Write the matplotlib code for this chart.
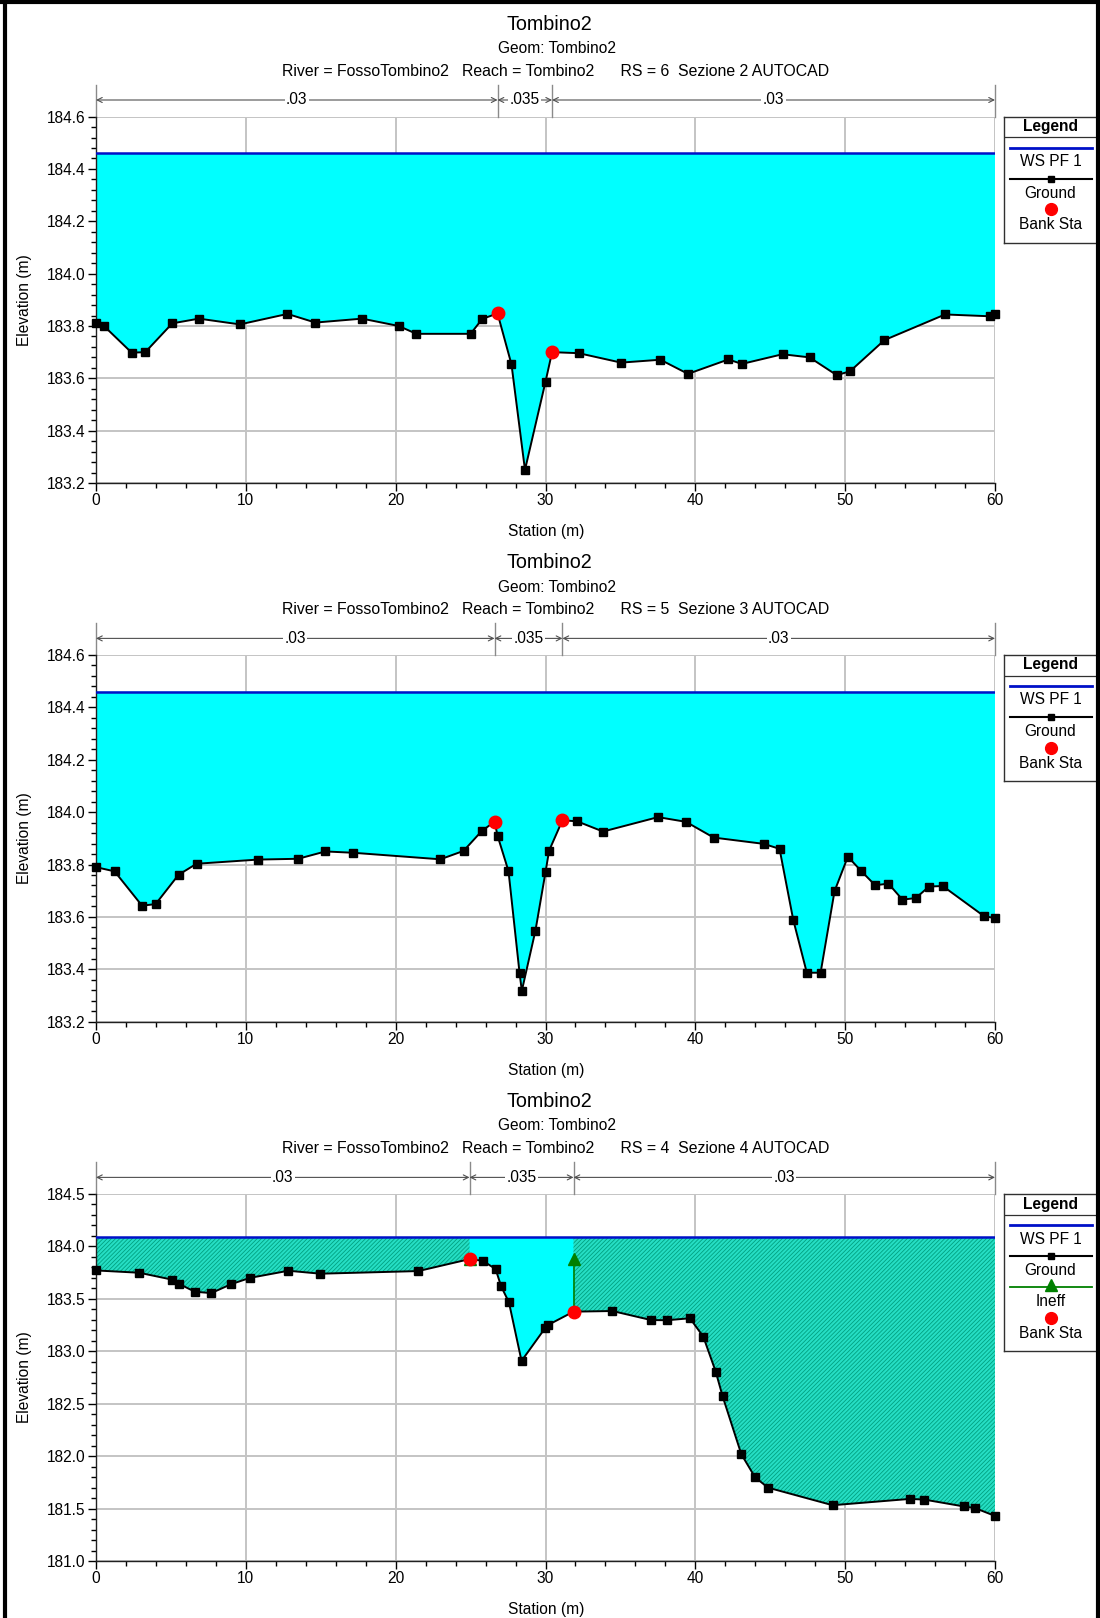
import numpy as np
import matplotlib
matplotlib.use("Agg")
import matplotlib.pyplot as plt
from matplotlib.ticker import MultipleLocator, FormatStrFormatter
from matplotlib.transforms import blended_transform_factory
from matplotlib.lines import Line2D

plt.rcParams['font.family'] = ['Liberation Sans', 'DejaVu Sans']
plt.rcParams['hatch.linewidth'] = 0.6

# ---------------- data ----------------
project = "Tombino2"
river = "FossoTombino2"
reach = "Tombino2"

# RS 6 - Sezione 2
sta_rs6 = [0.0, 0.53, 2.38, 3.29, 5.09, 6.87, 9.6, 12.78, 14.64, 17.76, 20.2, 21.38,
           25.0, 25.78, 26.8, 27.73, 28.63, 30.0, 30.44, 32.22, 35.04, 37.67, 39.51,
           42.2, 43.11, 45.82, 47.62, 49.44, 50.33, 52.62, 56.67, 59.67, 60.0]
elev_rs6 = [183.813, 183.80, 183.698, 183.70, 183.81, 183.828, 183.806, 183.846, 183.813,
            183.828, 183.80, 183.77, 183.77, 183.827, 183.848, 183.653, 183.25, 183.587,
            183.70, 183.696, 183.66, 183.671, 183.617, 183.672, 183.655, 183.692, 183.68,
            183.612, 183.627, 183.746, 183.844, 183.837, 183.845]
bank_rs6 = [26.8, 30.44]
ws_rs6 = 184.46
n_rs6 = [".03", ".035", ".03"]

# RS 5 - Sezione 3
sta_rs5 = [0.0, 1.24, 3.07, 3.98, 5.51, 6.71, 10.82, 13.49, 15.31, 17.16, 22.98, 24.53,
           25.73, 26.6, 26.8, 27.53, 28.27, 28.42, 29.33, 30.0, 30.24, 31.13, 32.11, 33.84,
           37.51, 39.38, 41.22, 44.56, 45.62, 46.53, 47.44, 48.36, 49.29, 50.18, 51.09,
           52.0, 52.89, 53.82, 54.71, 55.6, 56.51, 59.24, 60.0]
elev_rs5 = [183.79, 183.774, 183.643, 183.649, 183.761, 183.803, 183.819, 183.822, 183.85,
            183.845, 183.82, 183.852, 183.927, 183.964, 183.91, 183.775, 183.385, 183.318,
            183.548, 183.771, 183.853, 183.969, 183.965, 183.926, 183.981, 183.963, 183.903,
            183.879, 183.86, 183.59, 183.387, 183.387, 183.698, 183.83, 183.774, 183.721,
            183.727, 183.666, 183.672, 183.716, 183.718, 183.604, 183.595]
bank_rs5 = [26.6, 31.13]
ws_rs5 = 184.46
n_rs5 = [".03", ".035", ".03"]

# RS 4 - Sezione 4
sta_rs4 = [0.0, 2.89, 5.09, 5.56, 6.6, 7.69, 9.04, 10.27, 12.84, 14.98, 21.51, 24.93,
           25.82, 26.67, 27.04, 27.56, 28.4, 29.98, 30.16, 31.87, 34.47, 37.04, 38.11,
           39.64, 40.53, 41.36, 41.82, 43.07, 43.98, 44.84, 49.16, 54.31, 55.27, 57.93,
           58.64, 60.0]
elev_rs4 = [183.771, 183.749, 183.683, 183.641, 183.568, 183.555, 183.641, 183.70, 183.768,
            183.74, 183.765, 183.879, 183.863, 183.784, 183.619, 183.467, 182.908, 183.222,
            183.25, 183.378, 183.384, 183.298, 183.296, 183.315, 183.14, 182.806, 182.571,
            182.018, 181.80, 181.70, 181.532, 181.592, 181.586, 181.52, 181.506, 181.43]
bank_rs4 = [24.93, 31.87]
ws_rs4 = 184.09
n_rs4 = [".03", ".035", ".03"]
ineff_sta_rs4 = [24.93, 31.87]
ineff_elev_rs4 = 183.88

sections = [
    dict(rs=6, name="Sezione 2 AUTOCAD", sta=sta_rs6, elev=elev_rs6, bank=bank_rs6,
         ws=ws_rs6, n=n_rs6, ylim=(183.2, 184.6), major=0.2, minor=0.04,
         top=116.6, bottom=483.0, ineff=None),
    dict(rs=5, name="Sezione 3 AUTOCAD", sta=sta_rs5, elev=elev_rs5, bank=bank_rs5,
         ws=ws_rs5, n=n_rs5, ylim=(183.2, 184.6), major=0.2, minor=0.04,
         top=655.0, bottom=1021.7, ineff=None),
    dict(rs=4, name="Sezione 4 AUTOCAD", sta=sta_rs4, elev=elev_rs4, bank=bank_rs4,
         ws=ws_rs4, n=n_rs4, ylim=(181.0, 184.5), major=0.5, minor=0.1,
         top=1194.0, bottom=1561.0, ineff=(ineff_sta_rs4, ineff_elev_rs4)),
]

# ---------------- figure ----------------
W, H = 1100, 1618
fig = plt.figure(figsize=(W / 100, H / 100), dpi=100)


def fx(px):
    return px / W


def fy(py):
    return 1 - py / H


AX_L, AX_R = 96.0, 995.0
CYAN = '#00FFFF'
WS_BLUE = '#0010C8'
GREEN = '#008000'
HATCH_FACE = '#26DEC4'
HATCH_EDGE = '#00A080'
FS = 11.2


def draw_legend(top, has_ineff):
    height = 157.0 if has_ineff else 126.0
    lax = fig.add_axes([fx(1004), fy(top + height), fx(1097 - 1004), height / H])
    lax.set_xlim(0, 93)
    lax.set_ylim(height, 0)
    lax.set_xticks([])
    lax.set_yticks([])
    for s in lax.spines.values():
        s.set_linewidth(1.0)
        s.set_color('#303030')
    lax.text(46.5, 10, "Legend", ha='center', va='center', fontsize=FS, fontweight='bold')
    lax.plot([0, 93], [20.5, 20.5], color='#303030', lw=0.9)
    lax.plot([6, 88], [31, 31], color=WS_BLUE, lw=2)
    lax.text(46.5, 45, "WS PF 1", ha='center', va='center', fontsize=FS)
    lax.plot([6, 88], [62, 62], color='black', lw=1.5)
    lax.plot([46.5], [62], marker='s', color='black', ms=5)
    lax.text(46.5, 76.5, "Ground", ha='center', va='center', fontsize=FS)
    y = 92.5
    if has_ineff:
        lax.plot([6, 88], [93, 93], color=GREEN, lw=1.3)
        lax.plot([46.5], [90.5], marker='^', color=GREEN, ms=8)
        lax.text(46.5, 107.5, "Ineff", ha='center', va='center', fontsize=FS)
        y = 123.5
    lax.plot([46.5], [y], marker='o', color='red', ms=8.5)
    lax.text(46.5, y + 15.5, "Bank Sta", ha='center', va='center', fontsize=FS)


for sec in sections:
    top, bottom = sec['top'], sec['bottom']
    ax = fig.add_axes([fx(AX_L), fy(bottom), fx(AX_R - AX_L), (bottom - top) / H])
    sta = np.array(sec['sta'])
    elev = np.array(sec['elev'])
    ws = sec['ws']

    ax.set_xlim(0, 60)
    ax.set_ylim(*sec['ylim'])
    ax.set_axisbelow(True)
    ax.grid(True, which='major', color='#C4C4C4', lw=1.4)
    ax.xaxis.set_major_locator(MultipleLocator(10))
    ax.xaxis.set_minor_locator(MultipleLocator(2))
    ax.yaxis.set_major_locator(MultipleLocator(sec['major']))
    ax.yaxis.set_minor_locator(MultipleLocator(sec['minor']))
    ax.yaxis.set_major_formatter(FormatStrFormatter('%.1f'))
    ax.tick_params(which='major', length=6, width=1, labelsize=FS, direction='out', pad=1.5)
    ax.tick_params(which='minor', length=3.5, width=1, direction='out')
    for side in ('top', 'right'):
        ax.spines[side].set_visible(False)
    for side in ('left', 'bottom'):
        ax.spines[side].set_color('#202020')
        ax.spines[side].set_linewidth(1.0)

    # water between ground and water surface
    ax.fill_between(sta, elev, ws, facecolor=CYAN, lw=0, zorder=1)
    if sec['ineff'] is not None:
        (il, ir), ie = sec['ineff']
        mask = (sta <= il) | (sta >= ir)
        ax.fill_between(sta, elev, ws, where=mask, facecolor=HATCH_FACE,
                        edgecolor=HATCH_EDGE, hatch='/' * 8, lw=0, zorder=1.5)
        for s_ in (il, ir):
            g = np.interp(s_, sta, elev)
            ax.plot([s_, s_], [g, ie], color=GREEN, lw=1.2, zorder=3)
            ax.plot([s_], [ie], marker='^', color=GREEN, ms=8, zorder=3, clip_on=False)

    ax.plot([sta[0], sta[-1]], [ws, ws], color=WS_BLUE, lw=1.8, zorder=3)
    ax.plot(sta, elev, color='black', lw=1.4, marker='s', ms=5.2, zorder=4, clip_on=False)
    bank_e = np.interp(sec['bank'], sta, elev)
    ax.plot(sec['bank'], bank_e, 'o', color='red', ms=9, zorder=5, clip_on=False)

    # Manning's n bar above the plot
    trans = blended_transform_factory(ax.transData, ax.transAxes)
    h_ax = bottom - top
    y_bar = 1 + 16.6 / h_ax
    y_top = 1 + 32.0 / h_ax
    breaks = [sta[0]] + list(sec['bank']) + [sta[-1]]
    for b in breaks:
        ax.plot([b, b], [1.0, y_top], color='#8A8A8A', lw=1.0, transform=trans, clip_on=False)
    for i in range(3):
        x0, x1 = breaks[i], breaks[i + 1]
        ax.annotate('', xy=(x1, y_bar), xytext=(x0, y_bar), xycoords=trans,
                    textcoords=trans,
                    arrowprops=dict(arrowstyle='<->', lw=0.8, color='#505050',
                                    shrinkA=0, shrinkB=0, mutation_scale=9))
        ax.text((x0 + x1) / 2, y_bar, sec['n'][i], transform=trans, ha='center',
                va='center', fontsize=FS,
                bbox=dict(facecolor='white', edgecolor='none', pad=1.0))

    # titles
    fig.text(fx(549), fy(top - 92.6), project, ha='center', va='center', fontsize=14.2)
    fig.text(fx(557), fy(top - 68.0), "Geom: " + project, ha='center', va='center', fontsize=FS)
    fig.text(fx(556), fy(top - 45.6),
             f"River = {river}   Reach = {reach}      RS = {sec['rs']}  {sec['name']}",
             ha='center', va='center', fontsize=11.45)
    fig.text(fx(546), fy(bottom + 48.5), "Station (m)", ha='center', va='center', fontsize=FS)
    fig.text(fx(25), fy((top + bottom) / 2), "Elevation (m)", rotation=90,
             ha='center', va='center', fontsize=FS)

    draw_legend(top, sec['ineff'] is not None)

# outer frame (left, top and right edges)
for xs, ys in (([fx(5), fx(5)], [0, 1]), ([0, 1], [fy(2), fy(2)]),
               ([fx(1098), fx(1098)], [0, 1])):
    fig.add_artist(Line2D(xs, ys, transform=fig.transFigure, color='black', lw=3))

fig.savefig("out.png", dpi=100)
